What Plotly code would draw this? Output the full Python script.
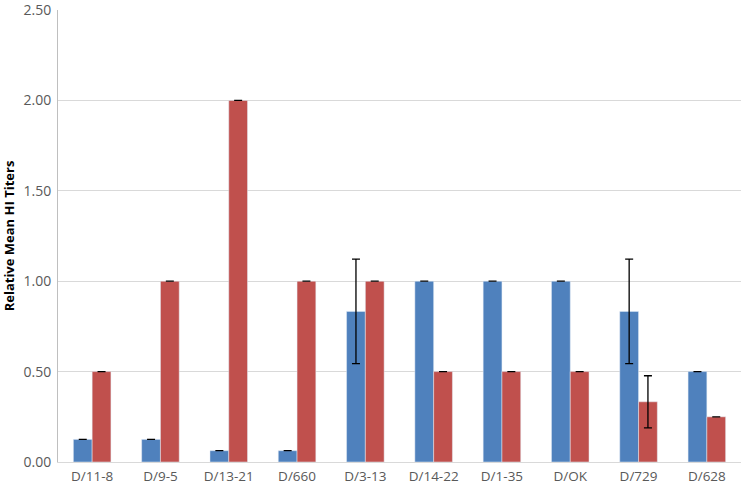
import plotly.graph_objects as go

categories = ["D/11-8", "D/9-5", "D/13-21", "D/660", "D/3-13", "D/14-22", "D/1-35", "D/OK", "D/729", "D/628"]
blue_values = [0.125, 0.125, 0.0625, 0.0625, 0.833, 1.0, 1.0, 1.0, 0.833, 0.5]
blue_errors = [0, 0, 0, 0, 0.289, 0, 0, 0, 0.289, 0]
red_values = [0.5, 1.0, 2.0, 1.0, 1.0, 0.5, 0.5, 0.5, 0.333, 0.25]
red_errors = [0, 0, 0, 0, 0, 0, 0, 0, 0.144, 0]
y_ticks = [0, 0.5, 1.0, 1.5, 2.0, 2.5]

fig = go.Figure()
fig.add_trace(go.Bar(x=categories, y=blue_values, marker_color="#4F81BD",
                     error_y=dict(type="data", array=blue_errors, visible=True,
                                  color="black", thickness=1.3, width=4)))
fig.add_trace(go.Bar(x=categories, y=red_values, marker_color="#C0504D",
                     error_y=dict(type="data", array=red_errors, visible=True,
                                  color="black", thickness=1.3, width=4)))

fig.update_layout(
    width=750, height=489,
    margin=dict(l=58, r=9, t=10, b=27, autoexpand=False),
    barmode="group", bargap=0.45, bargroupgap=0,
    plot_bgcolor="white", paper_bgcolor="white",
    showlegend=False,
    font=dict(family="Open Sans, Liberation Sans, sans-serif", size=13, color="#595959"),
)
fig.update_yaxes(range=[0, 2.5001], tickvals=y_ticks, tickformat=".2f",
                 tickfont=dict(size=14), ticklabelstandoff=3, ticklabeloverflow="allow",
                 showgrid=True, gridcolor="#D9D9D9", gridwidth=1,
                 showline=True, linecolor="#BFBFBF", linewidth=1,
                 zeroline=False, ticks="", ticklen=0, automargin=False,
                 title=dict(text="<b>Relative Mean HI Titers</b>",
                            font=dict(size=13, color="black"), standoff=5))
fig.update_xaxes(showline=True, linecolor="#D9D9D9", linewidth=1, ticks="",
                 tickfont=dict(size=13.5), ticklabelstandoff=2,
                 showgrid=False, automargin=False)

fig.write_html("out.html", config={"displayModeBar": False},
               post_script="document.body.style.margin='0';")
